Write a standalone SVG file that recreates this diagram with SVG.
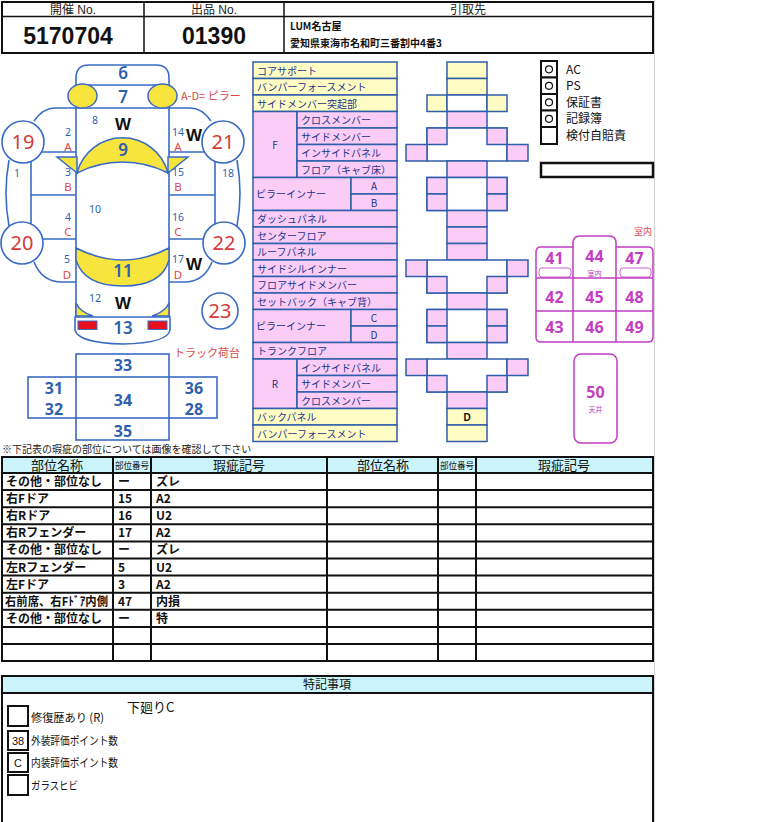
<svg xmlns="http://www.w3.org/2000/svg" width="768" height="822" viewBox="0 0 768 822">
<style>
.jp{font-family:"Noto Sans CJK JP","Liberation Sans",sans-serif}
.hd{font-family:"Liberation Sans","Noto Sans CJK JP",sans-serif}
.bk{fill:none;stroke:#111;stroke-width:2}
.cb{stroke:#3A6BC4;stroke-width:1.6}
.ct{font-family:"Noto Sans","Noto Sans CJK JP",sans-serif;fill:#2F5FAE;text-anchor:middle}
.sm{font-size:10.5px}
.big{font-size:17px;font-weight:600}
.bb{font-size:16px;font-weight:700}
.rl{font-family:"Noto Sans","Noto Sans CJK JP",sans-serif;fill:#D9484A;font-size:11.5px;text-anchor:middle}
.rls{font-family:"Noto Sans CJK JP","Noto Sans",sans-serif;fill:#D9484A;font-size:11px}
.circ{fill:#fff;stroke:#3A6BC4;stroke-width:1.6}
.cn{font-family:"Noto Sans",sans-serif;fill:#D63A3A;font-size:20px;text-anchor:middle}
.w{font-family:"Liberation Sans",sans-serif;font-weight:700;font-size:17px;fill:#111;text-anchor:middle}
.yl{fill:#F7E43C;stroke:#3A6BC4;stroke-width:1.5}
.pk{fill:#FBCDF6;stroke:#2F5DAA;stroke-width:1.5}
.yw{fill:#FFFDC4;stroke:#2F5DAA;stroke-width:1.5}
.wt{fill:#fff;stroke:#2F5DAA;stroke-width:1.5}
.lt{font-family:"Noto Sans CJK JP",sans-serif;font-size:10px;fill:#24358A}
.mg{fill:none;stroke:#C23EC2;stroke-width:1.5}
.mt{font-family:"Noto Sans","Noto Sans CJK JP",sans-serif;font-weight:700;font-size:16px;fill:#C23EC2;text-anchor:middle}
.ms{font-family:"Noto Sans CJK JP",sans-serif;font-size:7px;fill:#C23EC2;text-anchor:middle}
.th{fill:#CBF4FA;stroke:#111;stroke-width:2}
.tt{font-family:"Noto Sans CJK JP",sans-serif;font-size:12px;font-weight:700;fill:#111}
.thd{font-family:"Noto Sans CJK JP",sans-serif;fill:#111;text-anchor:middle}
.chk{font-family:"Noto Sans CJK JP",sans-serif;font-size:12px;fill:#111}
.cbx{fill:#fff;stroke:#111;stroke-width:2}
.cbo{fill:none;stroke:#111;stroke-width:1.2}
.rm{font-family:"Noto Sans CJK JP",sans-serif;font-size:11.5px;fill:#111}
</style>
<rect width="768" height="822" fill="#fff"/>
<line x1="654.5" y1="0" x2="654.5" y2="822" stroke="#d4d4d4" stroke-width="1"/>

<g id="header">
<rect x="2" y="2" width="651" height="51" class="bk"/>
<line x1="2" y1="16.5" x2="653" y2="16.5" stroke="#111" stroke-width="1.5"/>
<line x1="144" y1="2" x2="144" y2="53" stroke="#111" stroke-width="1.5"/>
<line x1="284" y1="2" x2="284" y2="53" stroke="#111" stroke-width="1.5"/>
<text x="73" y="14" class="hd" font-size="12" text-anchor="middle" fill="#222">開催 No.</text>
<text x="214" y="14" class="hd" font-size="12" text-anchor="middle" fill="#222">出品 No.</text>
<text x="468" y="14" class="jp" font-size="12" text-anchor="middle" fill="#222">引取先</text>
<text x="68" y="44" class="hd" font-size="23" font-weight="700" text-anchor="middle" fill="#111">5170704</text>
<text x="214" y="44" class="hd" font-size="23" font-weight="700" text-anchor="middle" fill="#111">01390</text>
<text x="290" y="30" class="jp" font-size="10" font-weight="700" fill="#111">LUM名古屋</text>
<text x="290" y="47" class="jp" font-size="10" font-weight="700" fill="#111">愛知県東海市名和町三番割中4番3</text>
</g>

<g id="car">
<g fill="none" class="cb">
<path d="M76,108 V78 Q76,65 89,65 H156 Q169,65 169,78 V108"/>
<path d="M76,85 H169"/>
<path d="M34,121 Q43,108 55,108 H190 Q202,108 211,121"/>
<path d="M76,108 V317 M169,108 V317"/>
<path d="M9,160 Q3,193 9,226 M31,161 V224 M31,152 H76 M31,195 H76 M31,239 H76"/>
<path d="M34,262 Q42,282 62,282 H76"/>
<path d="M237,160 Q243,193 237,226 M215,161 V224 M215,152 H169 M215,195 H169 M215,239 H169"/>
<path d="M212,262 Q204,282 184,282 H169"/>
</g>
<ellipse cx="82.5" cy="96" rx="14.5" ry="12" class="yl"/>
<ellipse cx="162.5" cy="96" rx="14.5" ry="12" class="yl"/>
<path d="M57,157 H77 V173 Z" class="yl"/>
<path d="M188,157 H168 V173 Z" class="yl"/>
<path d="M77,173 A47,47 0 0 1 168,173 A100,100 0 0 0 77,173 Z" class="yl"/>
<path d="M76,248 Q123,272 169,248 V260 Q162,286 123,286 Q84,286 76,260 Z" class="yl"/>
<path d="M76,303 Q80,312 93,316 H76 Z" class="yl"/>
<path d="M169,303 Q165,312 152,316 H169 Z" class="yl"/>
<path d="M75,317 H170 V330 Q168,343 123,344 Q78,343 75,330 Z" fill="#fff" class="cb"/>
<rect x="78" y="321" width="19" height="8.5" fill="#E8101E" stroke="#3A6BC4" stroke-width="1"/>
<rect x="148" y="321" width="19" height="8.5" fill="#E8101E" stroke="#3A6BC4" stroke-width="1"/>
<circle cx="23" cy="142" r="21" class="circ"/>
<circle cx="223" cy="142" r="21" class="circ"/>
<circle cx="22" cy="243" r="21" class="circ"/>
<circle cx="224" cy="243" r="21" class="circ"/>
<circle cx="220" cy="311" r="18" class="circ"/>
<text x="23" y="149" class="cn">19</text>
<text x="223" y="149" class="cn">21</text>
<text x="22" y="250" class="cn">20</text>
<text x="224" y="250" class="cn">22</text>
<text x="220" y="318" class="cn">23</text>
<text x="123" y="79" class="ct big">6</text>
<text x="123" y="103" class="ct big">7</text>
<text x="123" y="156" class="ct big">9</text>
<text x="123" y="277" class="ct big">11</text>
<text x="123" y="334" class="ct big">13</text>
<text x="95" y="124" class="ct sm">8</text>
<text x="95" y="213" class="ct sm">10</text>
<text x="95" y="302" class="ct sm">12</text>
<text x="17" y="177" class="ct sm">1</text>
<text x="228" y="177" class="ct sm">18</text>
<text x="68" y="136" class="ct sm">2</text>
<text x="68" y="176" class="ct sm">3</text>
<text x="68" y="221" class="ct sm">4</text>
<text x="67" y="263" class="ct sm">5</text>
<text x="178" y="136" class="ct sm">14</text>
<text x="178" y="176" class="ct sm">15</text>
<text x="178" y="221" class="ct sm">16</text>
<text x="178" y="263" class="ct sm">17</text>
<text x="68" y="151" class="rl">A</text>
<text x="68" y="191" class="rl">B</text>
<text x="68" y="236" class="rl">C</text>
<text x="67" y="279" class="rl">D</text>
<text x="178" y="151" class="rl">A</text>
<text x="178" y="191" class="rl">B</text>
<text x="178" y="236" class="rl">C</text>
<text x="178" y="279" class="rl">D</text>
<text x="123" y="130" class="w">W</text>
<text x="194" y="141" class="w">W</text>
<text x="194" y="270" class="w">W</text>
<text x="123" y="309" class="w">W</text>
<text x="181" y="100" class="rls">A-D= ピラー</text>
</g>

<g id="truck-bed">
<rect x="76" y="354" width="93" height="86" fill="none" class="cb"/>
<rect x="28" y="377" width="189" height="41" fill="none" class="cb"/>
<text x="174" y="357" class="rls">トラック荷台</text>
<text x="123" y="371" class="ct bb">33</text>
<text x="123" y="406" class="ct bb">34</text>
<text x="123" y="437" class="ct bb">35</text>
<text x="54" y="394" class="ct bb">31</text>
<text x="54" y="415" class="ct bb">32</text>
<text x="194" y="394" class="ct bb">36</text>
<text x="194" y="415" class="ct bb">28</text>
</g>

<g id="parts-list">
<rect x="253" y="62" width="144" height="16.5" class="yw"/>
<rect x="253" y="78.5" width="144" height="16.5" class="yw"/>
<rect x="253" y="95" width="144" height="16.5" class="yw"/>
<rect x="253" y="111.5" width="44" height="66" class="pk"/>
<rect x="297" y="111.5" width="100" height="16.5" class="pk"/>
<rect x="297" y="128" width="100" height="16.5" class="pk"/>
<rect x="297" y="144.5" width="100" height="16.5" class="pk"/>
<rect x="297" y="161" width="100" height="16.5" class="pk"/>
<rect x="253" y="177.5" width="98" height="33" class="pk"/>
<rect x="351" y="177.5" width="46" height="16.5" class="pk"/>
<rect x="351" y="194" width="46" height="16.5" class="pk"/>
<rect x="253" y="210.5" width="144" height="16.5" class="pk"/>
<rect x="253" y="227" width="144" height="16.5" class="pk"/>
<rect x="253" y="243.5" width="144" height="16.5" class="pk"/>
<rect x="253" y="260" width="144" height="16.5" class="pk"/>
<rect x="253" y="276.5" width="144" height="16.5" class="pk"/>
<rect x="253" y="293" width="144" height="16.5" class="pk"/>
<rect x="253" y="309.5" width="98" height="33" class="pk"/>
<rect x="351" y="309.5" width="46" height="16.5" class="pk"/>
<rect x="351" y="326" width="46" height="16.5" class="pk"/>
<rect x="253" y="342.5" width="144" height="16.5" class="pk"/>
<rect x="253" y="359" width="44" height="49.5" class="pk"/>
<rect x="297" y="359" width="100" height="16.5" class="pk"/>
<rect x="297" y="375.5" width="100" height="16.5" class="pk"/>
<rect x="297" y="392" width="100" height="16.5" class="pk"/>
<rect x="253" y="408.5" width="144" height="16.5" class="yw"/>
<rect x="253" y="425" width="144" height="16.5" class="yw"/>
<text x="257" y="74.5" class="lt">コアサポート</text>
<text x="257" y="91" class="lt">バンパーフォースメント</text>
<text x="257" y="107.5" class="lt">サイドメンバー突起部</text>
<text x="275" y="148.5" class="lt" text-anchor="middle">F</text>
<text x="301" y="124" class="lt">クロスメンバー</text>
<text x="301" y="140.5" class="lt">サイドメンバー</text>
<text x="301" y="157" class="lt">インサイドパネル</text>
<text x="301" y="173.5" class="lt">フロア（キャブ床）</text>
<text x="256" y="198" class="lt">ピラーインナー</text>
<text x="374" y="190" class="lt" text-anchor="middle">A</text>
<text x="374" y="206.5" class="lt" text-anchor="middle">B</text>
<text x="257" y="223" class="lt">ダッシュパネル</text>
<text x="257" y="239.5" class="lt">センターフロア</text>
<text x="257" y="256" class="lt">ルーフパネル</text>
<text x="257" y="272.5" class="lt">サイドシルインナー</text>
<text x="257" y="289" class="lt">フロアサイドメンバー</text>
<text x="257" y="305.5" class="lt">セットバック（キャブ背）</text>
<text x="256" y="330" class="lt">ピラーインナー</text>
<text x="374" y="322" class="lt" text-anchor="middle">C</text>
<text x="374" y="338.5" class="lt" text-anchor="middle">D</text>
<text x="257" y="355" class="lt">トランクフロア</text>
<text x="275" y="387.5" class="lt" text-anchor="middle">R</text>
<text x="301" y="371.5" class="lt">インサイドパネル</text>
<text x="301" y="388" class="lt">サイドメンバー</text>
<text x="301" y="404.5" class="lt">クロスメンバー</text>
<text x="257" y="421" class="lt">バックパネル</text>
<text x="257" y="437.5" class="lt">バンパーフォースメント</text>
</g>

<g id="frame-grid">
<rect x="447" y="62" width="40" height="16.5" class="yw"/>
<rect x="447" y="78.5" width="40" height="16.5" class="yw"/>
<rect x="427" y="95" width="20" height="16.5" class="yw"/>
<rect x="447" y="95" width="40" height="16.5" class="wt"/>
<rect x="487" y="95" width="20" height="16.5" class="yw"/>
<rect x="447" y="111.5" width="40" height="16.5" class="pk"/>
<rect x="427" y="128" width="80" height="33" class="wt"/>
<rect x="427" y="128" width="20" height="16.5" class="pk"/>
<rect x="487" y="128" width="20" height="16.5" class="pk"/>
<rect x="406" y="144.5" width="21" height="16.5" class="pk"/>
<rect x="507" y="144.5" width="21" height="16.5" class="pk"/>
<rect x="447" y="161" width="40" height="16.5" class="pk"/>
<rect x="427" y="177.5" width="80" height="33" class="wt"/>
<rect x="427" y="177.5" width="20" height="16.5" class="pk"/>
<rect x="427" y="194" width="20" height="16.5" class="pk"/>
<rect x="487" y="177.5" width="20" height="16.5" class="pk"/>
<rect x="487" y="194" width="20" height="16.5" class="pk"/>
<rect x="447" y="210.5" width="40" height="16.5" class="pk"/>
<rect x="447" y="227" width="40" height="16.5" class="pk"/>
<rect x="447" y="243.5" width="40" height="16.5" class="pk"/>
<rect x="427" y="260" width="80" height="33" class="wt"/>
<rect x="406" y="260" width="21" height="16.5" class="pk"/>
<rect x="507" y="260" width="21" height="16.5" class="pk"/>
<rect x="427" y="276.5" width="20" height="16.5" class="pk"/>
<rect x="487" y="276.5" width="20" height="16.5" class="pk"/>
<rect x="447" y="293" width="40" height="16.5" class="pk"/>
<rect x="427" y="309.5" width="80" height="33" class="wt"/>
<rect x="427" y="309.5" width="20" height="16.5" class="pk"/>
<rect x="427" y="326" width="20" height="16.5" class="pk"/>
<rect x="487" y="309.5" width="20" height="16.5" class="pk"/>
<rect x="487" y="326" width="20" height="16.5" class="pk"/>
<rect x="447" y="342.5" width="40" height="16.5" class="pk"/>
<rect x="427" y="359" width="80" height="33" class="wt"/>
<rect x="406" y="359" width="21" height="16.5" class="pk"/>
<rect x="507" y="359" width="21" height="16.5" class="pk"/>
<rect x="427" y="375.5" width="20" height="16.5" class="pk"/>
<rect x="487" y="375.5" width="20" height="16.5" class="pk"/>
<rect x="447" y="392" width="40" height="16.5" class="pk"/>
<rect x="447" y="408.5" width="40" height="16.5" class="yw"/>
<rect x="447" y="425" width="40" height="16.5" class="yw"/>
<text x="467" y="421" font-family="Liberation Sans,sans-serif" font-size="10" font-weight="700" fill="#111" text-anchor="middle">D</text>
</g>

<g id="checklist">
<rect x="541" y="61" width="16" height="16.5" class="cbx"/>
<rect x="541" y="77.5" width="16" height="16.5" class="cbx"/>
<rect x="541" y="94" width="16" height="16.5" class="cbx"/>
<rect x="541" y="110.5" width="16" height="16.5" class="cbx"/>
<rect x="541" y="127" width="16" height="17" class="cbx"/>
<circle cx="549" cy="69.3" r="3.5" class="cbo"/>
<circle cx="549" cy="85.8" r="3.5" class="cbo"/>
<circle cx="549" cy="102.3" r="3.5" class="cbo"/>
<circle cx="549" cy="118.8" r="3.5" class="cbo"/>
<text x="566" y="73.5" class="chk">AC</text>
<text x="566" y="90" class="chk">PS</text>
<text x="566" y="106.5" class="chk">保証書</text>
<text x="566" y="123" class="chk">記録簿</text>
<text x="566" y="140" class="chk">検付自賠責</text>
<rect x="541" y="163" width="112" height="14" fill="#fff" stroke="#111" stroke-width="2.5"/>
</g>

<g id="interior">
<text x="652" y="235" font-family="Noto Sans CJK JP,sans-serif" font-size="9" fill="#D9484A" text-anchor="end">室内</text>
<path d="M536,252 Q536,247 541,247 H573 V243 Q573,236 580,236 H609 Q616,236 616,243 V247 H648 Q653,247 653,252 V337 Q653,342 648,342 H541 Q536,342 536,337 Z" fill="#fff" class="mg"/>
<path d="M573,247 V342 M616,247 V342 M536,278 H653 M536,311 H653" class="mg"/>
<rect x="539" y="268" width="32" height="9" rx="3" fill="none" stroke="#C23EC2" stroke-width="0.8"/>
<rect x="620" y="268" width="31" height="9" rx="3" fill="none" stroke="#C23EC2" stroke-width="0.8"/>
<text x="554.5" y="264" class="mt">41</text>
<text x="594.5" y="262" class="mt">44</text>
<text x="594.5" y="276" class="ms">室内</text>
<text x="634.5" y="264" class="mt">47</text>
<text x="554.5" y="303" class="mt">42</text>
<text x="594.5" y="303" class="mt">45</text>
<text x="634.5" y="303" class="mt">48</text>
<text x="554.5" y="333" class="mt">43</text>
<text x="594.5" y="333" class="mt">46</text>
<text x="634.5" y="333" class="mt">49</text>
<rect x="574" y="354" width="43" height="89" rx="7" fill="#fff" class="mg"/>
<text x="595.5" y="398" class="mt">50</text>
<text x="595.5" y="412" class="ms">天井</text>
</g>

<g id="defect-table">
<text x="2" y="453" class="jp" font-size="10" fill="#222">※下記表の瑕疵の部位については画像を確認して下さい</text>
<rect x="2" y="457" width="111" height="16" class="th"/>
<rect x="113" y="457" width="38" height="16" class="th"/>
<rect x="151" y="457" width="176" height="16" class="th"/>
<rect x="327" y="457" width="111" height="16" class="th"/>
<rect x="438" y="457" width="38" height="16" class="th"/>
<rect x="476" y="457" width="177" height="16" class="th"/>
<text x="57" y="469.5" class="thd" style="font-size:13px">部位名称</text>
<text x="132" y="468.5" class="thd" style="font-size:9px" textLength="34" lengthAdjust="spacingAndGlyphs">部位番号</text>
<text x="239" y="469.5" class="thd" style="font-size:13px">瑕疵記号</text>
<text x="383" y="469.5" class="thd" style="font-size:13px">部位名称</text>
<text x="457" y="468.5" class="thd" style="font-size:9px" textLength="34" lengthAdjust="spacingAndGlyphs">部位番号</text>
<text x="564" y="469.5" class="thd" style="font-size:13px">瑕疵記号</text>
<g fill="none" stroke="#111" stroke-width="2">
<rect x="2" y="473" width="651" height="188"/>
<path d="M2,490.1 H653 M2,507.2 H653 M2,524.3 H653 M2,541.4 H653 M2,558.5 H653 M2,575.6 H653 M2,592.7 H653 M2,609.8 H653 M2,626.9 H653 M2,644 H653"/>
<path d="M113,473 V661 M151,473 V661 M327,473 V661 M438,473 V661 M476,473 V661"/>
</g>
<text x="6" y="486" class="tt">その他・部位なし</text><text x="118" y="486" class="tt">ー</text><text x="156" y="486" class="tt">ズレ</text>
<text x="6" y="503.1" class="tt">右Fドア</text><text x="118" y="503.1" class="tt">15</text><text x="156" y="503.1" class="tt">A2</text>
<text x="6" y="520.2" class="tt">右Rドア</text><text x="118" y="520.2" class="tt">16</text><text x="156" y="520.2" class="tt">U2</text>
<text x="6" y="537.3" class="tt">右Rフェンダー</text><text x="118" y="537.3" class="tt">17</text><text x="156" y="537.3" class="tt">A2</text>
<text x="6" y="554.4" class="tt">その他・部位なし</text><text x="118" y="554.4" class="tt">ー</text><text x="156" y="554.4" class="tt">ズレ</text>
<text x="6" y="571.5" class="tt">左Rフェンダー</text><text x="118" y="571.5" class="tt">5</text><text x="156" y="571.5" class="tt">U2</text>
<text x="6" y="588.6" class="tt">左Fドア</text><text x="118" y="588.6" class="tt">3</text><text x="156" y="588.6" class="tt">A2</text>
<text x="5" y="605.7" class="tt" textLength="103" lengthAdjust="spacingAndGlyphs">右前席、右Fﾄﾞｱ内側</text><text x="118" y="605.7" class="tt">47</text><text x="156" y="605.7" class="tt">内損</text>
<text x="6" y="622.8" class="tt">その他・部位なし</text><text x="118" y="622.8" class="tt">ー</text><text x="156" y="622.8" class="tt">特</text>
</g>

<g id="remarks">
<rect x="2" y="676" width="651" height="17" class="th"/>
<text x="327" y="689" class="thd" style="font-size:12px">特記事項</text>
<path d="M2,693 V830 M653,693 V830" stroke="#111" stroke-width="2" fill="none"/>
<text x="127" y="712" class="jp" font-size="13" fill="#111">下廻りC</text>
<rect x="8" y="706" width="20" height="20" class="cbx"/>
<rect x="8" y="731" width="20" height="19" class="cbx"/>
<rect x="8" y="753" width="20" height="19" class="cbx"/>
<rect x="8" y="775" width="20" height="20" class="cbx"/>
<text x="18" y="745" class="hd" font-size="11" text-anchor="middle" fill="#111">38</text>
<text x="18" y="767" class="hd" font-size="11" text-anchor="middle" fill="#111">C</text>
<text x="31" y="722" class="rm" textLength="73" lengthAdjust="spacingAndGlyphs">修復歴あり (R)</text>
<text x="31" y="745" class="rm" textLength="87" lengthAdjust="spacingAndGlyphs">外装評価ポイント数</text>
<text x="31" y="767" class="rm" textLength="87" lengthAdjust="spacingAndGlyphs">内装評価ポイント数</text>
<text x="31" y="790" class="rm" textLength="47" lengthAdjust="spacingAndGlyphs">ガラスヒビ</text>
</g>
</svg>
